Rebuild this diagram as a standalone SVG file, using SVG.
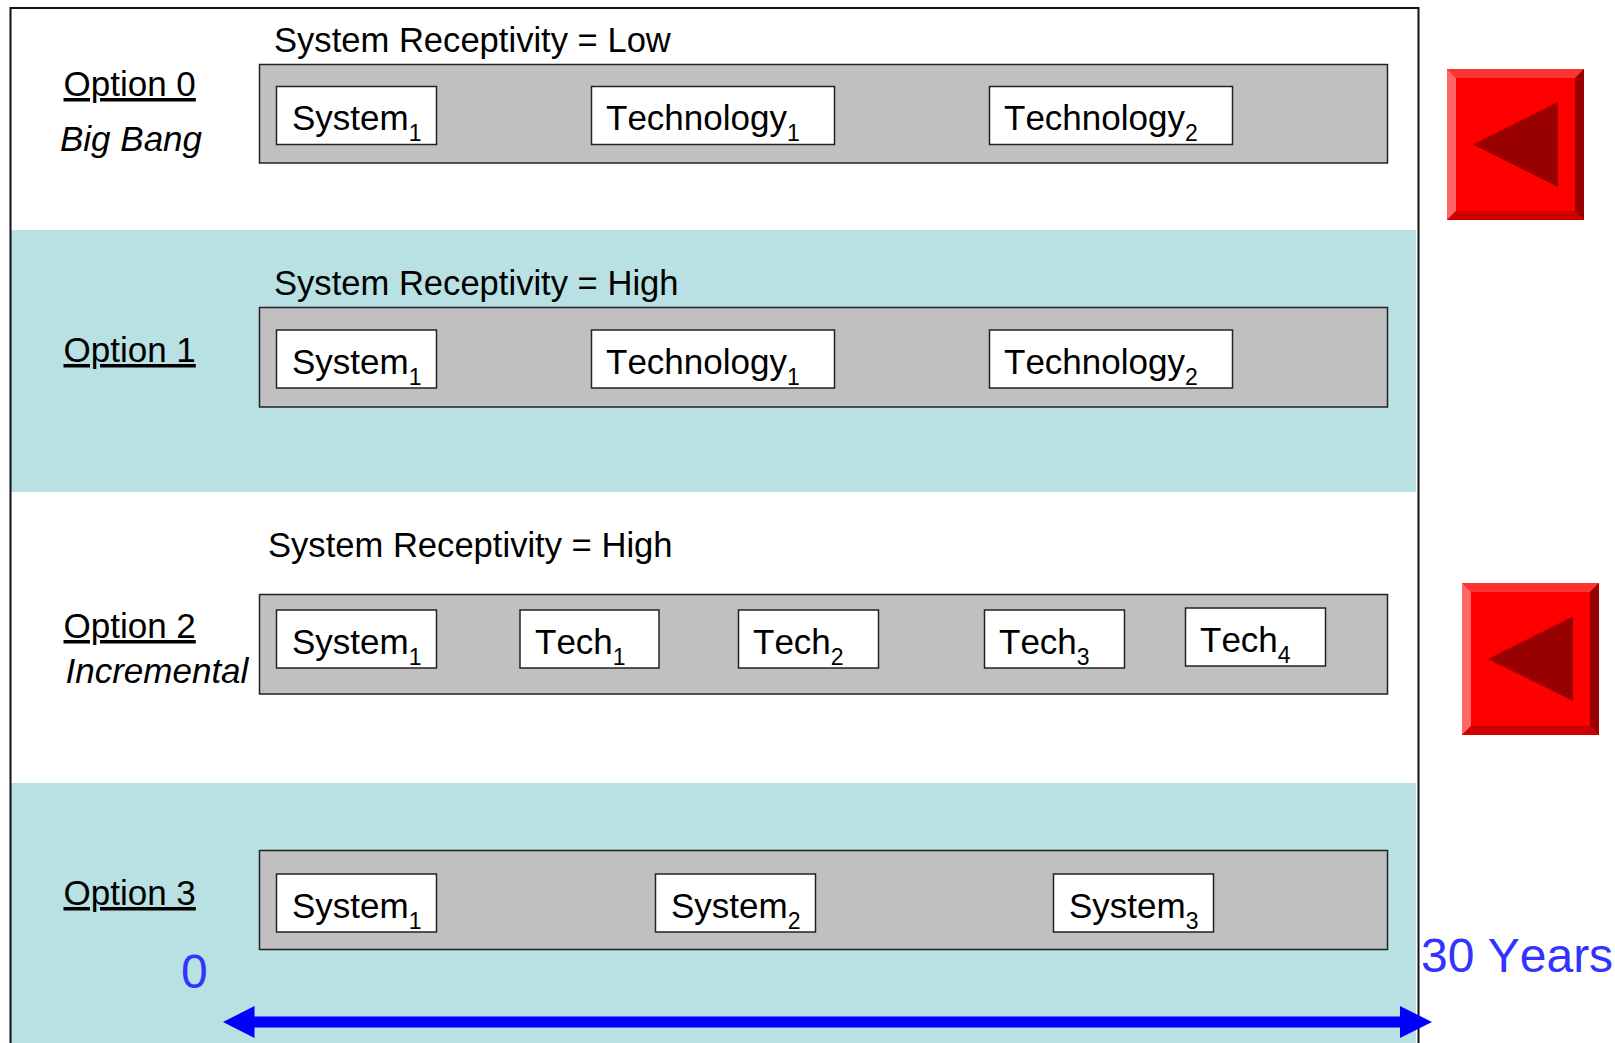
<svg xmlns="http://www.w3.org/2000/svg" width="1615" height="1043" viewBox="0 0 1615 1043">
<defs><style>
text{font-family:"Liberation Sans",Arial,sans-serif;font-size:35px;fill:#000;font-kerning:none}
.band{fill:#b9e0e2}
.gray{fill:#c0c0c0;stroke:#222;stroke-width:1.5}
.box{fill:#fff;stroke:#222;stroke-width:1.5}
.sub{font-size:23px}
.head{font-size:34.6px}
.opt{text-decoration:underline}
.it{font-style:italic}
.blue{fill:#3333ff;font-size:48px}
</style></defs>
<rect width="1615" height="1043" fill="#fff"/>
<rect class="band" x="11" y="230" width="1405" height="262"/>
<rect class="band" x="11" y="783" width="1405" height="260"/>
<path d="M10.500 1043V8H1418.500V1043" fill="none" stroke="#111" stroke-width="2"/>
<g id="row0">
<text class="head" x="274" y="52">System Receptivity = Low</text>
<rect class="gray" x="259.500" y="64.500" width="1128" height="98.500"/>
<text id="label0" class="opt" x="63.500" y="96">Option 0</text>
<text class="it" x="60" y="151">Big Bang</text>
<g id="n0a"><rect class="box" x="276.500" y="86.500" width="160" height="58"/><text x="292" y="130">System<tspan class="sub" dy="11">1</tspan></text></g>
<g id="n0b"><rect class="box" x="591.500" y="86.500" width="243" height="58"/><text x="606" y="130">Technology<tspan class="sub" dy="11">1</tspan></text></g>
<g id="n0c"><rect class="box" x="989.500" y="86.500" width="243" height="58"/><text x="1004" y="130">Technology<tspan class="sub" dy="11">2</tspan></text></g>
</g>
<g id="row1">
<text class="head" x="274" y="295">System Receptivity = High</text>
<rect class="gray" x="259.500" y="307.500" width="1128" height="99.500"/>
<text class="opt" x="63.500" y="362">Option 1</text>
<g id="n1a"><rect class="box" x="276.500" y="330" width="160" height="58"/><text x="292" y="374">System<tspan class="sub" dy="11">1</tspan></text></g>
<g id="n1b"><rect class="box" x="591.500" y="330" width="243" height="58"/><text x="606" y="374">Technology<tspan class="sub" dy="11">1</tspan></text></g>
<g id="n1c"><rect class="box" x="989.500" y="330" width="243" height="58"/><text x="1004" y="374">Technology<tspan class="sub" dy="11">2</tspan></text></g>
</g>
<g id="row2">
<text class="head" x="268" y="557">System Receptivity = High</text>
<rect class="gray" x="259.500" y="594.500" width="1128" height="99.500"/>
<text class="opt" x="63.500" y="638">Option 2</text>
<text class="it" x="65.500" y="683">Incremental</text>
<g id="n2a"><rect class="box" x="276.500" y="610" width="160" height="58"/><text x="292" y="654">System<tspan class="sub" dy="11">1</tspan></text></g>
<g id="n2b"><rect class="box" x="520" y="610" width="139" height="58"/><text x="535" y="654">Tech<tspan class="sub" dy="11">1</tspan></text></g>
<g id="n2c"><rect class="box" x="738.500" y="610" width="140" height="58"/><text x="753" y="654">Tech<tspan class="sub" dy="11">2</tspan></text></g>
<g id="n2d"><rect class="box" x="984.500" y="610" width="140" height="58"/><text x="999" y="654">Tech<tspan class="sub" dy="11">3</tspan></text></g>
<g id="n2e"><rect class="box" x="1185.500" y="608" width="140" height="58"/><text x="1200" y="652">Tech<tspan class="sub" dy="11">4</tspan></text></g>
</g>
<g id="row3">
<rect class="gray" x="259.500" y="850.500" width="1128" height="99"/>
<text class="opt" x="63.500" y="905">Option 3</text>
<g id="n3a"><rect class="box" x="276.500" y="874" width="160" height="58"/><text x="292" y="918">System<tspan class="sub" dy="11">1</tspan></text></g>
<g id="n3b"><rect class="box" x="655.500" y="874" width="160" height="58"/><text x="671" y="918">System<tspan class="sub" dy="11">2</tspan></text></g>
<g id="n3c"><rect class="box" x="1053.500" y="874" width="160" height="58"/><text x="1069" y="918">System<tspan class="sub" dy="11">3</tspan></text></g>
</g>
<g id="btn0">
<rect x="1447" y="69" width="137" height="151" fill="#f00"/>
<polygon points="1447,69 1584,69 1575,78 1456,78" fill="#ff3333"/>
<polygon points="1447,69 1456,78 1456,211 1447,220" fill="#ff6666"/>
<polygon points="1584,69 1584,220 1575,211 1575,78" fill="#990000"/>
<polygon points="1447,220 1456,211 1575,211 1584,220" fill="#cc0000"/>
<polygon points="1473,144.500 1558,102 1558,187" fill="#990000"/>
</g>
<g id="btn1">
<rect x="1462" y="583" width="137" height="152" fill="#f00"/>
<polygon points="1462,583 1599,583 1590,592 1471,592" fill="#ff3333"/>
<polygon points="1462,583 1471,592 1471,726 1462,735" fill="#ff6666"/>
<polygon points="1599,583 1599,735 1590,726 1590,592" fill="#990000"/>
<polygon points="1462,735 1471,726 1590,726 1599,735" fill="#cc0000"/>
<polygon points="1488,659 1573,616.500 1573,701" fill="#990000"/>
</g>
<g id="connectors">
<polygon points="223,1022 254.500,1006 254.500,1016.500 1400,1016.500 1400,1006 1432,1022 1400,1038 1400,1027.500 254.500,1027.500 254.500,1038" fill="#0000ff"/>
</g>
<text class="blue" x="181" y="988">0</text>
<text class="blue" x="1421" y="972">30 Years</text>
</svg>
